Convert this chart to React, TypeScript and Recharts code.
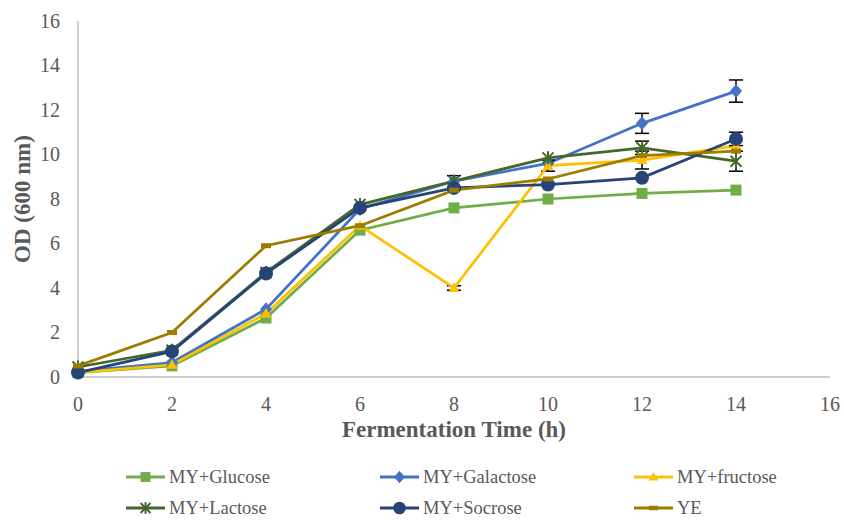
import { LineChart, Line, XAxis, YAxis, Legend, ErrorBar } from 'recharts';

const times = [0, 2, 4, 6, 8, 10, 12, 14];
const glucose = [0.2, 0.5, 2.65, 6.6, 7.6, 8.0, 8.25, 8.4];
const galactose = [0.25, 0.65, 3.05, 7.55, 8.8, 9.6, 11.4, 12.85];
const fructose = [0.2, 0.55, 2.85, 6.8, 4.0, 9.5, 9.75, 10.4];
const lactose = [0.45, 1.2, 4.7, 7.75, 8.8, 9.85, 10.3, 9.7];
const sucrose = [0.2, 1.15, 4.65, 7.6, 8.5, 8.65, 8.95, 10.7];
const ye = [0.5, 2.0, 5.9, 6.8, 8.4, 8.9, 9.95, 10.15];

const galactoseErr = [null, null, null, null, null, null, 0.45, 0.5];
const fructoseErr = [null, null, null, null, 0.1, 0.25, 0.4, null];
const lactoseErr = [null, null, null, null, 0.25, null, 0.3, 0.45];
const sucroseErr = [null, null, null, null, null, null, null, 0.3];

const xTicks = [0, 2, 4, 6, 8, 10, 12, 14, 16];
const yTicks = [0, 2, 4, 6, 8, 10, 12, 14, 16];

const data = times.map((t, i) => ({
  t,
  glucose: glucose[i],
  galactose: galactose[i],
  fructose: fructose[i],
  lactose: lactose[i],
  sucrose: sucrose[i],
  ye: ye[i],
  galactoseErr: galactoseErr[i],
  fructoseErr: fructoseErr[i],
  lactoseErr: lactoseErr[i],
  sucroseErr: sucroseErr[i],
}));

const FONT = "'Liberation Serif', 'Times New Roman', serif";
const GREY = '#595959';

type Shape = 'square' | 'diamond' | 'triangle' | 'star' | 'circle' | 'dash';

const series: { key: string; name: string; color: string; shape: Shape }[] = [
  { key: 'glucose', name: 'MY+Glucose', color: '#70AD47', shape: 'square' },
  { key: 'galactose', name: 'MY+Galactose', color: '#4472C4', shape: 'diamond' },
  { key: 'fructose', name: 'MY+fructose', color: '#FFC000', shape: 'triangle' },
  { key: 'lactose', name: 'MY+Lactose', color: '#43682B', shape: 'star' },
  { key: 'sucrose', name: 'MY+Socrose', color: '#264478', shape: 'circle' },
  { key: 'ye', name: 'YE', color: '#9E7C00', shape: 'dash' },
];

const marker = (shape: Shape, cx: number, cy: number, color: string, s = 1) => {
  switch (shape) {
    case 'square':
      return <rect x={cx - 5.5 * s} y={cy - 5.5 * s} width={11 * s} height={11 * s} fill={color} />;
    case 'diamond':
      return (
        <polygon
          points={`${cx},${cy - 7 * s} ${cx + 6 * s},${cy} ${cx},${cy + 7 * s} ${cx - 6 * s},${cy}`}
          fill={color}
        />
      );
    case 'triangle':
      return (
        <polygon
          points={`${cx},${cy - 5.5 * s} ${cx + 5.5 * s},${cy + 4 * s} ${cx - 5.5 * s},${cy + 4 * s}`}
          fill={color}
        />
      );
    case 'star':
      return (
        <g stroke={color} strokeWidth={2}>
          <line x1={cx - 5.5 * s} y1={cy - 5.5 * s} x2={cx + 5.5 * s} y2={cy + 5.5 * s} />
          <line x1={cx - 5.5 * s} y1={cy + 5.5 * s} x2={cx + 5.5 * s} y2={cy - 5.5 * s} />
          <line x1={cx} y1={cy - 6.5 * s} x2={cx} y2={cy + 6.5 * s} />
        </g>
      );
    case 'circle':
      return <circle cx={cx} cy={cy} r={7 * s} fill={color} />;
    case 'dash':
      return <rect x={cx - 5 * s} y={cy - 2.5 * s} width={10 * s} height={5 * s} fill={color} />;
  }
};

const makeDot = (shape: Shape, color: string) => (props: any) => {
  const { cx, cy, index } = props;
  if (cx == null || cy == null) return <g key={index} />;
  return <g key={index}>{marker(shape, cx, cy, color)}</g>;
};

// custom ticks so the serif font is surely used
const XTick = (props: any) => {
  const { x, y, payload } = props;
  return (
    <text x={x} y={y} dy="0.71em" textAnchor="middle" fill={GREY} fontSize={20} fontFamily={FONT}>
      {payload.value}
    </text>
  );
};

const YTick = (props: any) => {
  const { x, y, payload } = props;
  return (
    <text x={x} y={y} dy="0.34em" textAnchor="end" fill={GREY} fontSize={20} fontFamily={FONT}>
      {payload.value}
    </text>
  );
};

const LegendContent = () => (
  <div
    style={{
      display: 'grid',
      gridTemplateColumns: '254px 254px 254px',
      rowGap: 9,
      paddingLeft: 126,
      paddingTop: 6,
      fontFamily: FONT,
      fontSize: 18.5,
      lineHeight: '22px',
      color: GREY,
    }}
  >
    {series.map((s) => (
      <div key={s.key} style={{ display: 'flex', alignItems: 'center', height: 22 }}>
        <svg width={39} height={16} style={{ marginRight: 4 }}>
          <line x1={0} y1={8} x2={39} y2={8} stroke={s.color} strokeWidth={3} />
          {marker(s.shape, 19.5, 8, s.color, 0.9)}
        </svg>
        <span>{s.name}</span>
      </div>
    ))}
  </div>
);

const labelStyle = { fill: GREY, fontSize: 23, fontWeight: 'bold', fontFamily: FONT };

const App = () => {
  return (
    <div
      style={{
        position: 'absolute',
        left: 0,
        top: 0,
        width: 844,
        height: 520,
        background: '#fff',
        fontFamily: FONT,
      }}
    >
      <LineChart
        width={844}
        height={520}
        data={data}
        margin={{ top: 21, right: 14, left: 0, bottom: 0 }}
        style={{ fontFamily: FONT }}
      >
        <XAxis
          dataKey="t"
          type="number"
          domain={[0, 16]}
          ticks={xTicks}
          interval={0}
          stroke="#BFBFBF"
          strokeWidth={1.5}
          tickLine={false}
          tickSize={6}
          tickMargin={14}
          tick={<XTick />}
          height={83}
          label={{
            value: 'Fermentation Time (h)',
            position: 'insideBottom',
            offset: 23,
            ...labelStyle,
          }}
        />
        <YAxis
          type="number"
          domain={[0, 16]}
          ticks={yTicks}
          interval={0}
          width={78}
          stroke="#BFBFBF"
          strokeWidth={1.5}
          tickLine={false}
          tickSize={6}
          tickMargin={12}
          tick={<YTick />}
          label={{
            value: 'OD (600 nm)',
            angle: -90,
            position: 'insideLeft',
            offset: 22,
            style: { textAnchor: 'middle' },
            ...labelStyle,
          }}
        />
        <Legend
          verticalAlign="bottom"
          height={60}
          content={() => <LegendContent />}
          wrapperStyle={{ left: 0, bottom: 0, width: 844, height: 60 }}
        />
        {series.map((s) => (
          <Line
            key={s.key}
            dataKey={s.key}
            name={s.name}
            stroke={s.color}
            strokeWidth={2.75}
            isAnimationActive={false}
            dot={makeDot(s.shape, s.color)}
            activeDot={false}
          >
            {['galactose', 'fructose', 'lactose', 'sucrose'].includes(s.key) && (
              <ErrorBar dataKey={`${s.key}Err`} direction="y" width={7} stroke="#000" strokeWidth={1.5} />
            )}
          </Line>
        ))}
      </LineChart>
    </div>
  );
};

export default App;
